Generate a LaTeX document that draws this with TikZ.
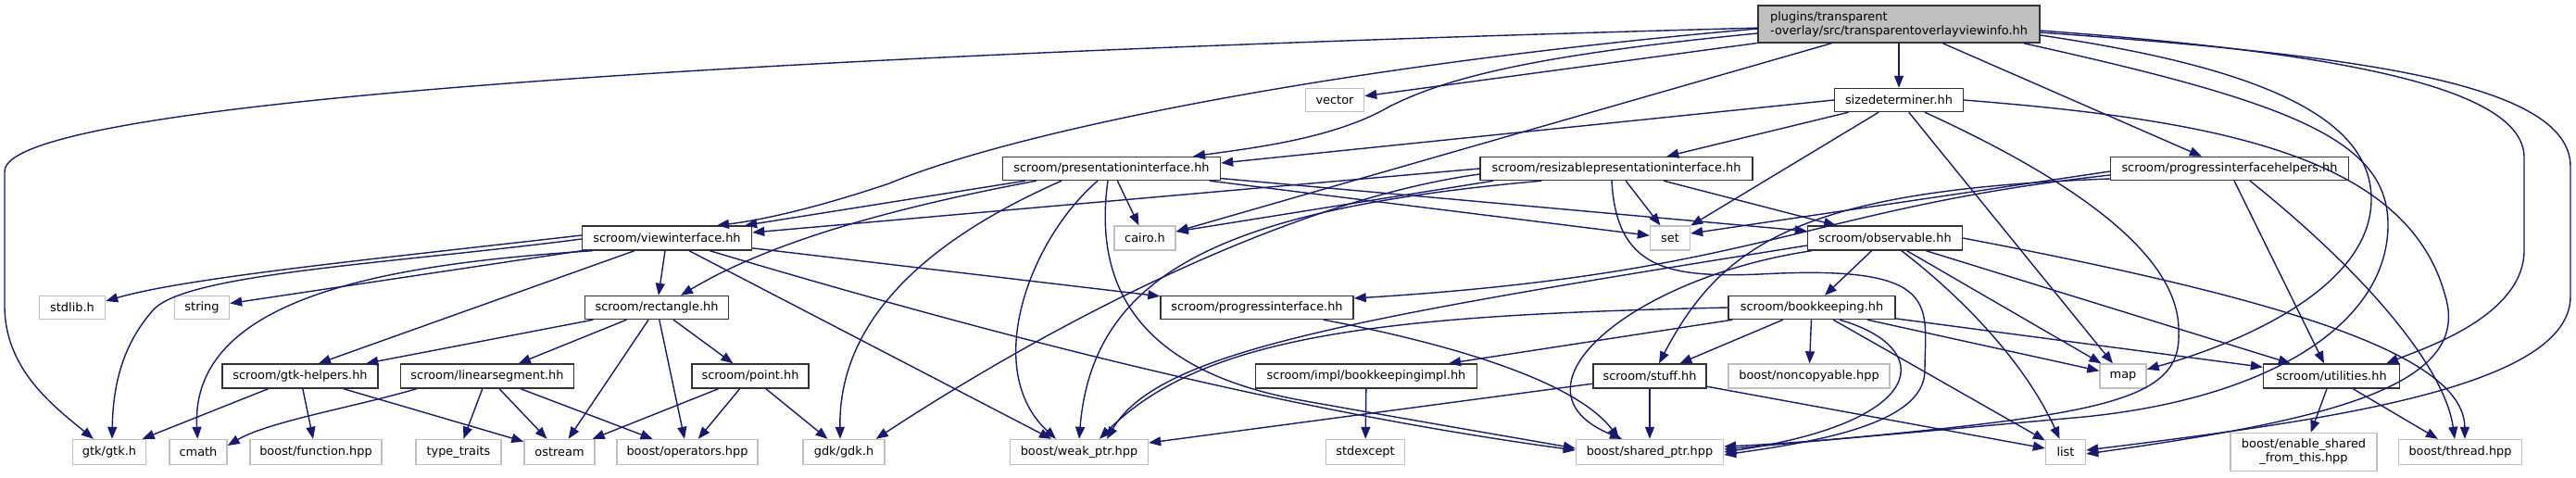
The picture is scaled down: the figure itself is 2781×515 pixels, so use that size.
\documentclass[tikz,border=0pt]{standalone}
\usepackage{fontspec}
\setmainfont{DejaVu Sans}
\usetikzlibrary{arrows.meta,calc}
\definecolor{edgec}{HTML}{191970}
\definecolor{extc}{HTML}{BFBFBF}
\newcommand\nfont{\fontsize{12.9}{15}\selectfont}
\begin{document}
\begin{tikzpicture}[x=1pt,y=-1pt,
  box/.style={inner sep=0pt, line width=1.4pt, font=\nfont, text=black},
  doc/.style={box, draw=black!80, fill=white},
  ext/.style={box, draw=extc, fill=white},
  rootn/.style={box, draw=black!80, fill=extc},
  e/.style={draw=edgec, line width=1.4pt, -{Triangle[length=13pt,width=10pt]}}]
\useasboundingbox (0,0) rectangle (2781,515);
% nodes
\node[rootn, minimum width=304pt, minimum height=40pt, align=left] (root) at (2050,26) {plugins/transparent\\-overlay/src/transparentoverlayviewinfo.hh};
\node[doc, minimum width=139pt, minimum height=25pt] (sizedet) at (2050,108) {sizedeterminer.hh};
\node[ext, minimum width=63pt, minimum height=25pt] (vector) at (1441,108) {vector};
\node[doc, minimum width=235pt, minimum height=25pt] (presint) at (1200,182) {scroom/presentationinterface.hh};
\node[doc, minimum width=294pt, minimum height=25pt] (resint) at (1745,182) {scroom/resizablepresentationinterface.hh};
\node[doc, minimum width=257pt, minimum height=25pt] (progh) at (2407,182) {scroom/progressinterfacehelpers.hh};
\node[doc, minimum width=183pt, minimum height=26pt] (viewint) at (720,257) {scroom/viewinterface.hh};
\node[ext, minimum width=66pt, minimum height=26pt] (cairo) at (1236,257) {cairo.h};
\node[ext, minimum width=43pt, minimum height=26pt] (set) at (1803,257) {set};
\node[doc, minimum width=167pt, minimum height=26pt] (observable) at (2035,257) {scroom/observable.hh};
\node[ext, minimum width=71pt, minimum height=25pt] (stdlib) at (78,332) {stdlib.h};
\node[ext, minimum width=59pt, minimum height=25pt] (string) at (218,332) {string};
\node[doc, minimum width=155pt, minimum height=25pt] (rect) at (709,332) {scroom/rectangle.hh};
\node[doc, minimum width=208pt, minimum height=25pt] (progint) at (1357,332) {scroom/progressinterface.hh};
\node[doc, minimum width=180pt, minimum height=25pt] (bookk) at (1956,332) {scroom/bookkeeping.hh};
\node[doc, minimum width=168pt, minimum height=26pt] (gtkh) at (324,406) {scroom/gtk-helpers.hh};
\node[doc, minimum width=187pt, minimum height=26pt] (linseg) at (526,406) {scroom/linearsegment.hh};
\node[doc, minimum width=126pt, minimum height=26pt] (point) at (810,406) {scroom/point.hh};
\node[doc, minimum width=239pt, minimum height=26pt] (bkimpl) at (1475,406) {scroom/impl/bookkeepingimpl.hh};
\node[doc, minimum width=122pt, minimum height=26pt] (stuff) at (1781,406) {scroom/stuff.hh};
\node[ext, minimum width=174pt, minimum height=26pt] (noncop) at (1953,406) {boost/noncopyable.hpp};
\node[ext, minimum width=50pt, minimum height=26pt] (map) at (2292,406) {map};
\node[doc, minimum width=147pt, minimum height=26pt] (util) at (2517,406) {scroom/utilities.hh};
\node[ext, minimum width=79pt, minimum height=27pt] (gtk) at (118,488) {gtk/gtk.h};
\node[ext, minimum width=62pt, minimum height=27pt] (cmath) at (214,488) {cmath};
\node[ext, minimum width=142pt, minimum height=27pt] (func) at (341,488) {boost/function.hpp};
\node[ext, minimum width=92pt, minimum height=27pt] (typetr) at (495,488) {type\_traits};
\node[ext, minimum width=76pt, minimum height=27pt] (ostream) at (604,488) {ostream};
\node[ext, minimum width=152pt, minimum height=27pt] (operators) at (742,488) {boost/operators.hpp};
\node[ext, minimum width=88pt, minimum height=27pt] (gdk) at (911,488) {gdk/gdk.h};
\node[ext, minimum width=149pt, minimum height=27pt] (weak) at (1165,488) {boost/weak\_ptr.hpp};
\node[ext, minimum width=85pt, minimum height=27pt] (stdexc) at (1474,488) {stdexcept};
\node[ext, minimum width=159pt, minimum height=27pt] (shared) at (1781,488) {boost/shared\_ptr.hpp};
\node[ext, minimum width=43pt, minimum height=27pt] (list) at (2230,488) {list};
\node[ext, minimum width=158pt, minimum height=41pt, align=center] (enable) at (2487,488) {boost/enable\_shared\\\_from\_this.hpp};
\node[ext, minimum width=133pt, minimum height=27pt] (thread) at (2656,488) {boost/thread.hpp};
% root edges
\draw[e] (root) .. controls (800,60) and (5,110) .. (5,185) -- (5,330) .. controls (5,400) and (60,440) .. (gtk);
\draw[e] (root) -- (vector);
\draw[e] ($(root.west)+(0,10)$) .. controls (1650,60) and (1560,85) .. (1500,115) .. controls (1440,150) and (1350,160) .. ($(presint.north)+(88,0)$);
\draw[e] ($(root.west)+(0,5)$) .. controls (1450,70) and (1100,140) .. (960,198) .. controls (880,225) and (820,238) .. ($(viewint.north)+(54,0)$);
\draw[e] ($(root.south west)+(80,0)$) -- ($(cairo.east)+(0,-7)$);
\draw[e] (root) -- (sizedet);
\draw[e] (root) -- (progh);
\draw[e] ($(root.east)+(0,12)$) .. controls (2420,70) and (2560,120) .. (2560,215) .. controls (2560,310) and (2420,370) .. (map);
\draw[e] ($(root.south east)+(-18,0)$) .. controls (2470,110) and (2580,150) .. (2578,245) .. controls (2576,350) and (2450,430) .. (2250,450) .. controls (2050,468) and (1950,478) .. ($(shared.east)+(0,-6)$);
\draw[e] ($(root.east)+(0,7)$) .. controls (2500,55) and (2725,90) .. (2725,170) -- (2725,270) .. controls (2725,340) and (2620,375) .. ($(util.north east)+(-15,0)$);
\draw[e] ($(root.east)+(0,9)$) .. controls (2550,60) and (2775,90) .. (2775,180) -- (2775,320) .. controls (2775,420) and (2500,455) .. ($(list.east)+(0,-2)$);
% sizedeterminer
\draw[e] (sizedet.west) -- ($(presint.east)+(0,-6)$);
\draw[e] (sizedet) -- (resint);
\draw[e] (sizedet) -- (set);
\draw[e] (sizedet) -- (map);
\draw[e] ($(sizedet.south)+(28,0)$) .. controls (2250,200) and (2355,280) .. (2352,360) .. controls (2355,440) and (2250,450) .. ($(shared.east)+(0,-3)$);
\draw[e] (sizedet.east) .. controls (2400,130) and (2600,170) .. (2640,320) .. controls (2670,420) and (2500,455) .. ($(list.east)+(0,2)$);
% presentationinterface
\draw[e] ($(presint.south west)+(25,0)$) -- ($(viewint.north east)+(-8,0)$);
\draw[e] ($(presint.south west)+(37,0)$) .. controls (960,225) and (830,262) .. ($(rect.north)+(26,0)$);
\draw[e] ($(presint.south)+(-54,0)$) .. controls (1010,255) and (905,340) .. ($(gdk.north)+(-4,0)$);
\draw[e] ($(presint.south)+(-15,0)$) .. controls (1110,260) and (1060,400) .. ($(weak.north)+(-25,0)$);
\draw[e] (presint) -- (cairo);
\draw[e] ($(presint.south)+(-4,0)$) .. controls (1180,310) and (1230,400) .. (1404,432) .. controls (1550,458) and (1650,475) .. ($(shared.west)+(0,-4)$);
\draw[e] (presint) -- (set);
\draw[e] (presint) -- (observable);
% resizablepresentationinterface
\draw[e] (resint.west) -- ($(viewint.east)+(0,-6)$);
\draw[e] ($(resint.south west)+(15,0)$) -- ($(cairo.east)+(0,-7)$);
\draw[e] ($(resint.west)+(0,6)$) .. controls (1400,215) and (1150,340) .. ($(gdk.north east)+(-10,0)$);
\draw[e] ($(resint.south west)+(67,0)$) .. controls (1330,225) and (1180,290) .. ($(weak.north)+(0,0)$);
\draw[e] (resint) -- (set);
\draw[e] (resint) -- (observable);
\draw[e] ($(resint.south)+(-5,0)$) .. controls (1745,290) and (1800,300) .. (1900,296) .. controls (2100,285) and (2078,330) .. (2078,400) .. controls (2078,460) and (1950,478) .. ($(shared.east)+(0,3)$);
% progressinterfacehelpers
\draw[e] ($(progh.west)+(0,3)$) -- ($(set.east)+(0,-5)$);
\draw[e] ($(progh.west)+(0,7)$) .. controls (1950,225) and (1900,295) .. ($(progint.east)+(0,-10)$);
\draw[e] ($(progh.west)+(0,11)$) .. controls (1950,205) and (1860,260) .. ($(stuff.north)+(10,0)$);
\draw[e] ($(progh.south)+(5,0)$) -- ($(util.north)+(-8,0)$);
\draw[e] ($(progh.south)+(22,0)$) .. controls (2560,300) and (2640,400) .. ($(thread.north)+(-6,0)$);
% viewinterface
\draw[e] ($(viewint.west)+(0,-3)$) .. controls (400,280) and (200,300) .. ($(stdlib.east)+(0,-7)$);
\draw[e] ($(viewint.west)+(0,1)$) .. controls (420,285) and (200,295) .. (165,335) .. controls (130,375) and (122,420) .. ($(gtk.north)+(3,0)$);
\draw[e] (viewint) -- (string);
\draw[e] ($(viewint.south west)+(12,0)$) .. controls (420,285) and (205,320) .. (cmath);
\draw[e] ($(viewint.south)+(-35,0)$) -- ($(gtkh.north)+(20,0)$);
\draw[e] (viewint) -- (rect);
\draw[e] ($(viewint.south)+(24,0)$) -- ($(weak.north)+(-30,0)$);
\draw[e] ($(viewint.south east)+(-46,0)$) .. controls (1100,370) and (1400,445) .. ($(shared.west)+(0,-2)$);
\draw[e] (viewint) -- (progint);
% rectangle
\draw[e] (rect) -- (gtkh);
\draw[e] (rect) -- (linseg);
\draw[e] (rect) -- (point);
\draw[e] (rect) -- (ostream);
\draw[e] (rect) -- (operators);
% gtk-helpers
\draw[e] (gtkh) -- (gtk);
\draw[e] (gtkh) -- (func);
\draw[e] (gtkh) -- (ostream);
% linearsegment
\draw[e] ($(linseg.south west)+(18,0)$) .. controls (380,440) and (290,455) .. ($(cmath.east)+(0,-7)$);
\draw[e] (linseg) -- (typetr);
\draw[e] (linseg) -- (ostream);
\draw[e] (linseg) -- (operators);
% point
\draw[e] (point) -- (ostream);
\draw[e] (point) -- (operators);
\draw[e] (point) -- (gdk);
% progressinterface
\draw[e] ($(progint.south east)+(-33,0)$) .. controls (1560,370) and (1700,410) .. ($(shared.north)+(-33,0)$);
% observable
\draw[e] (observable) -- (bookk);
\draw[e] ($(observable.west)+(0,8)$) .. controls (1450,345) and (1250,380) .. ($(weak.north)+(30,0)$);
\draw[e] ($(observable.south west)+(5,0)$) .. controls (1760,300) and (1620,420) .. ($(shared.north)+(-30,0)$);
\draw[e] (observable) -- (map);
\draw[e] (observable) .. controls (2130,330) and (2190,400) .. (list);
\draw[e] (observable) -- (util);
\draw[e] (observable.east) .. controls (2450,320) and (2660,380) .. ($(thread.north)+(5,0)$);
% bookkeeping
\draw[e] (bookk) -- (bkimpl);
\draw[e] (bookk) -- (stuff);
\draw[e] (bookk) -- (noncop);
\draw[e] (bookk) -- (map);
\draw[e] (bookk) -- (util);
\draw[e] (bookk) -- (list);
\draw[e] (bookk.west) .. controls (1500,340) and (1300,360) .. ($(weak.north)+(22,0)$);
\draw[e] ($(bookk.south)+(30,0)$) .. controls (2090,375) and (2085,455) .. (shared.east);
% stuff
\draw[e] (stuff) -- (weak);
\draw[e] (stuff) -- (shared);
\draw[e] (stuff) -- (list);
% others
\draw[e] (bkimpl) -- (stdexc);
\draw[e] (util) -- (enable);
\draw[e] (util) -- (thread);
\end{tikzpicture}
\end{document}
